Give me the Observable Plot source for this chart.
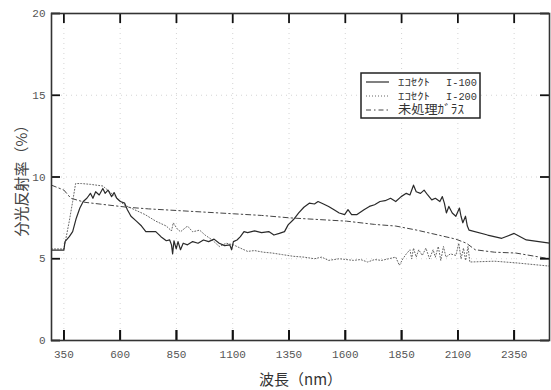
<!DOCTYPE html>
<html><head><meta charset="utf-8">
<script src="https://cdn.jsdelivr.net/npm/d3@7"></script>
<script src="https://cdn.jsdelivr.net/npm/@observablehq/plot@0.6"></script>
<style>body{margin:0;background:#fff;} #c{position:relative;width:551px;height:390px;}</style>
</head><body><div id="c"></div>
<script>
// ---- data ----
const xTicks = [350, 600, 850, 1100, 1350, 1600, 1850, 2100, 2350];
const yTicks = [0, 5, 10, 15, 20];
const seriesBrand = ["ｴｺｾｸﾄ", "ｴｺｾｸﾄ", "未処理ｶﾞﾗｽ"];
const seriesCode = ["I-100", "I-200", ""];

const wl100 = [295,350,355,374,389,405,421,436,452,468,479,491,507,523,533,546,562,573,585,601,620,632,648,672,695,714,758,781,805,820,828,833,839,849,857,868,880,899,922,946,970,993,1017,1040,1064,1087,1095,1103,1119,1134,1150,1166,1197,1228,1260,1283,1307,1330,1346,1370,1393,1416,1440,1463,1479,1503,1526,1550,1573,1597,1612,1628,1652,1683,1707,1730,1754,1777,1801,1824,1848,1871,1887,1903,1915,1934,1950,1966,1984,2000,2020,2031,2040,2049,2060,2075,2091,2107,2114,2122,2134,2142,2150,2232,2295,2350,2404,2507];
const r100 = [5.53,5.53,6.05,6.35,6.66,7.48,8.1,8.5,8.7,9.0,8.7,9.1,8.9,9.3,9.0,9.2,8.8,9.05,8.7,8.5,8.4,8.0,7.6,7.3,7.0,6.66,6.66,6.35,6.1,6.15,5.85,5.3,6.1,5.6,6.05,5.55,5.95,5.85,6.05,5.95,6.15,6.05,6.2,5.95,5.8,5.85,5.55,6.05,6.15,6.35,6.66,6.6,6.7,6.6,6.66,6.45,6.55,6.66,7.07,7.4,7.8,8.15,8.4,8.35,8.5,8.35,8.2,8.0,7.8,7.7,8.0,7.7,7.7,8.0,8.2,8.3,8.5,8.55,8.7,8.5,8.8,9.0,8.9,9.5,9.1,9.0,9.2,8.9,8.6,8.7,8.5,8.8,8.4,7.8,8.2,7.8,7.6,8.1,7.6,7.2,7.6,7.0,6.75,6.45,6.25,6.55,6.15,5.95];

const wl200 = [295,350,374,389,402,428,468,523,570,617,664,711,758,805,828,836,852,868,899,922,953,977,1009,1040,1071,1103,1134,1166,1197,1236,1275,1322,1369,1416,1463,1495,1526,1573,1636,1668,1699,1730,1761,1793,1824,1840,1856,1871,1887,1895,1903,1915,1926,1942,1958,1974,1990,2000,2013,2024,2036,2047,2067,2091,2104,2114,2125,2134,2145,2153,2263,2357,2507];
const r200 = [5.6,5.6,7.3,8.5,9.6,9.6,9.55,9.45,8.9,8.3,8.0,7.7,7.3,7.0,6.7,7.2,6.85,6.65,7.0,6.65,6.75,6.45,6.15,5.75,5.95,5.85,5.65,5.45,5.5,5.4,5.35,5.25,5.15,5.1,5.0,5.1,4.9,5.0,4.9,4.95,4.8,4.95,4.9,5.0,5.1,4.6,5.0,5.3,5.55,5.0,5.65,5.1,5.55,5.2,5.65,5.0,5.55,5.1,5.75,4.9,5.75,5.1,5.3,5.2,5.95,5.0,5.65,4.9,5.75,4.8,4.85,4.75,4.55];

const wlGlass = [295,350,381,444,538,632,726,852,977,1103,1228,1354,1479,1605,1730,1824,1918,2013,2091,2138,2177,2263,2357,2507];
const rGlass = [9.5,9.2,8.7,8.45,8.3,8.15,8.05,7.95,7.85,7.75,7.65,7.5,7.4,7.3,7.1,7.0,6.75,6.45,6.2,5.95,5.55,5.4,5.35,5.0];

// ---- build ----
const toRows = (w, r) => w.map((x, i) => ({x, y: r[i]}));
const d100 = toRows(wl100, r100), d200 = toRows(wl200, r200), dG = toRows(wlGlass, rGlass);

const styles = [
  {stroke: "#2a2a2a", strokeWidth: 1.2, dash: null},
  {stroke: "#666", strokeWidth: 1, dash: "1,2"},
  {stroke: "#444", strokeWidth: 1, dash: "5,3,1.5,3"}
];

const W = 551, H = 390, mL = 51, mR = 2, mT = 13, mB = 50;
const plotW = W - mL - mR, plotH = H - mT - mB;
const tickLenX = 10, tickLenY = 9;
const tickStroke = "#111", tickWidth = 1.8;

const tickFont = "'Liberation Mono', 'DejaVu Sans Mono', monospace";
const cjk = "'Noto Sans CJK JP', sans-serif";
const fmt = d => String(d);
const blank = () => "";

const chart = Plot.plot({
  width: W, height: H,
  marginLeft: mL, marginRight: mR, marginTop: mT, marginBottom: mB,
  style: {background: "#fff", color: "#555"},
  x: {domain: [295, 2507]},
  y: {domain: [0, 20]},
  marks: [
    Plot.gridX(xTicks, {stroke: "#aaa", strokeOpacity: 0.5, strokeDasharray: "1,4"}),
    Plot.gridY([5, 10, 15], {stroke: "#aaa", strokeOpacity: 0.5, strokeDasharray: "1,4"}),
    Plot.line(dG, {x: "x", y: "y", stroke: styles[2].stroke, strokeWidth: styles[2].strokeWidth, strokeDasharray: styles[2].dash}),
    Plot.line(d200, {x: "x", y: "y", stroke: styles[1].stroke, strokeWidth: styles[1].strokeWidth, strokeDasharray: styles[1].dash}),
    Plot.line(d100, {x: "x", y: "y", stroke: styles[0].stroke, strokeWidth: styles[0].strokeWidth}),
    Plot.axisX(xTicks, {tickSize: 0, tickPadding: 10, tickFormat: fmt, label: null, fontFamily: tickFont, fontSize: 11, fill: "#555"}),
    Plot.axisY(yTicks, {tickSize: 0, tickPadding: 6, tickFormat: fmt, label: null, fontFamily: tickFont, fontSize: 11, fill: "#555"}),
    // inward tick marks on all four sides
    Plot.ruleX(xTicks, {x: d => d, insetTop: plotH - tickLenX, stroke: tickStroke, strokeWidth: tickWidth}),
    Plot.ruleX(xTicks, {x: d => d, insetBottom: plotH - tickLenX, stroke: tickStroke, strokeWidth: tickWidth}),
    Plot.axisX(xTicks, {tickSize: tickLenX, dy: -tickLenX, tickFormat: blank, label: null, stroke: tickStroke, strokeWidth: tickWidth}),
    Plot.ruleY(yTicks, {y: d => d, insetRight: plotW - tickLenY, stroke: tickStroke, strokeWidth: tickWidth}),
    Plot.ruleY(yTicks, {y: d => d, insetLeft: plotW - tickLenY, stroke: tickStroke, strokeWidth: tickWidth}),
    Plot.frame({stroke: "#333", strokeWidth: 1.6}),
    Plot.text(["波長（nm）"], {frameAnchor: "bottom", dy: 40, lineAnchor: "middle", textAnchor: "middle", fontSize: 15, fontFamily: cjk, fill: "#333"}),
    Plot.text(["分光反射率（%）"], {frameAnchor: "left", dx: -29, rotate: -90, textAnchor: "middle", lineAnchor: "middle", fontSize: 15, fontFamily: cjk, fill: "#444"})
  ]
});
document.getElementById("c").appendChild(chart);

// ---- legend ----
const svg = d3.select(chart);
const lg = svg.append("g").attr("text-anchor", "start");
lg.append("rect").attr("x", 361).attr("y", 73).attr("width", 119).attr("height", 45)
  .attr("fill", "#fff").attr("stroke", "#222").attr("stroke-width", 1.5);
const rowsY = [82, 96, 110];
seriesBrand.forEach((name, i) => {
  const s = styles[i];
  lg.append("line").attr("x1", 366).attr("x2", 389).attr("y1", rowsY[i]).attr("y2", rowsY[i])
    .attr("stroke", s.stroke).attr("stroke-width", s.strokeWidth)
    .attr("stroke-dasharray", s.dash);
  lg.append("text").attr("x", 398).attr("y", rowsY[i]).attr("dy", "0.35em")
    .attr("text-anchor", "start")
    .attr("font-family", cjk).attr("font-size", i === 2 ? 12.5 : 10).attr("fill", "#333")
    .attr("textLength", i === 2 ? 66 : 32).attr("lengthAdjust", "spacingAndGlyphs")
    .text(name);
  if (seriesCode[i]) {
    lg.append("text").attr("x", 446).attr("y", rowsY[i]).attr("dy", "0.35em")
      .attr("text-anchor", "start")
      .attr("font-family", tickFont).attr("font-size", 10.5).attr("fill", "#333")
      .attr("textLength", 31).attr("lengthAdjust", "spacingAndGlyphs")
      .text(seriesCode[i]);
  }
});
</script>
</body></html>
